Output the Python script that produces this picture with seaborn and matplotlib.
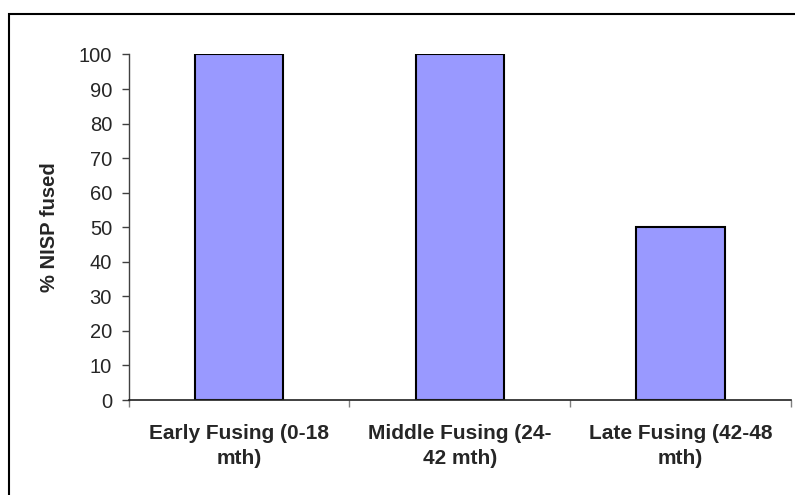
import matplotlib
matplotlib.use("Agg")
import matplotlib.pyplot as plt
import seaborn as sns
import pandas as pd
from matplotlib.patches import Rectangle

categories = ["Early Fusing (0-18\nmth)", "Middle Fusing (24-\n42 mth)", "Late Fusing (42-48\nmth)"]
values = [100, 100, 50]
yticks = [0, 10, 20, 30, 40, 50, 60, 70, 80, 90, 100]

sns.set_theme(style="white")
plt.rcParams['font.family'] = ['Liberation Sans', 'DejaVu Sans']

df = pd.DataFrame({"cat": categories, "val": values})

fig = plt.figure(figsize=(7.95, 4.95), dpi=100)
ax = fig.add_axes([128.7/795, 1-400/495, (791-128.7)/795, (400-54.5)/495])
sns.barplot(data=df, x="cat", y="val", ax=ax, color="#9999FF", saturation=1,
            width=0.4, edgecolor="black", linewidth=1.5)

ax.set_xlim(-0.5, 2.5)
ax.set_ylim(0, 100)
ax.set_yticks(yticks)
ax.set_yticklabels([str(t) for t in yticks], fontsize=14.5)
ax.set_xticks(range(len(categories)))
ax.set_xticklabels(categories, fontsize=15, fontweight="bold", linespacing=1.4)
ax.tick_params(axis="x", which="major", length=0, pad=17)
ax.set_xticks([-0.5, 0.5, 1.5, 2.5], minor=True)
ax.tick_params(axis="x", which="minor", length=5, width=1, color="#808080", direction="out", bottom=True)
ax.tick_params(axis="y", length=5, width=1, color="#404040", direction="out", left=True, pad=7)
ax.set_xlabel("")
ax.set_ylabel("% NISP fused", fontsize=14.5, fontweight="bold", labelpad=14)

for s in ["top", "right"]:
    ax.spines[s].set_visible(False)
ax.spines["left"].set_color("#404040")
ax.spines["bottom"].set_color("#202020")
ax.spines["left"].set_linewidth(1)
ax.spines["bottom"].set_linewidth(1.2)

border = Rectangle((8.5/795, -0.2), 1.2, (1-14/495) + 0.2,
                   transform=fig.transFigure, fill=False, edgecolor="black", linewidth=1.5)
fig.patches.append(border)

fig.savefig("out.png", dpi=100)
